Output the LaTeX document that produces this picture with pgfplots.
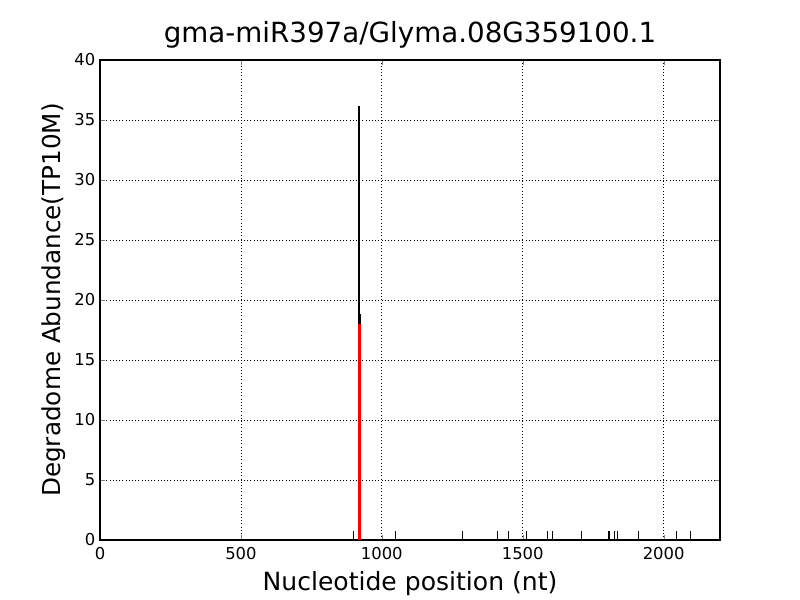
\documentclass[border=0pt]{standalone}
\usepackage{pgfplots}
\pgfplotsset{compat=1.18}
\usepackage{fontspec}
\setmainfont{DejaVu Sans}
\begin{document}
\begin{tikzpicture}
\path[use as bounding box] (-75pt,-45pt) rectangle (525pt,405pt);
\begin{axis}[
  at={(0,0)}, anchor=south west,
  scale only axis, width=465pt, height=360pt,
  xmin=0, xmax=2200, ymin=0, ymax=40,
  xtick={0,500,1000,1500,2000}, ytick={0,5,...,40},
  tick align=inside, tick pos=both,
  major tick length=3.5pt,
  grid=major, grid style={black, dotted, line width=0.6pt},
  axis line style={black, line width=0.8pt},
  /pgf/number format/assume math mode=true,
  /pgf/number format/set thousands separator={},
  tick label style={font=\fontsize{12.3}{14}\selectfont},
  xticklabel style={yshift=-2pt},
  title={gma-miR397a/Glyma.08G359100.1},
  title style={font=\fontsize{20.8}{24}\selectfont, at={(axis description cs:0.5,1.035)}, anchor=center},
  xlabel={Nucleotide position (nt)},
  xlabel style={font=\fontsize{18.8}{22}\selectfont, at={(axis description cs:0.5,-0.09)}, anchor=center},
  ylabel={Degradome Abundance(TP10M)},
  ylabel style={font=\fontsize{18.5}{22}\selectfont, at={(axis description cs:-0.0745,0.5)}, anchor=center},
]
\addplot[ycomb, black, line width=0.8pt, mark=none] coordinates {
(901,0.75) (919,36.2) (1050,0.75) (1287,0.75) (1410,0.75) (1449,0.75)
(1514,0.75) (1589,0.75) (1606,0.75) (1709,0.75) (1806,0.75) (1808,0.75)
(1826,0.75) (1835,0.75) (1910,0.75) (2045,0.75) (2047,0.75) (2096,0.75)
};
\addplot[ycomb, black, line width=2.2pt, mark=none] coordinates {(920,18.8)};
\addplot[ycomb, red, line width=2.2pt, mark=none] coordinates {(920,18.0)};
\end{axis}
\end{tikzpicture}
\end{document}
